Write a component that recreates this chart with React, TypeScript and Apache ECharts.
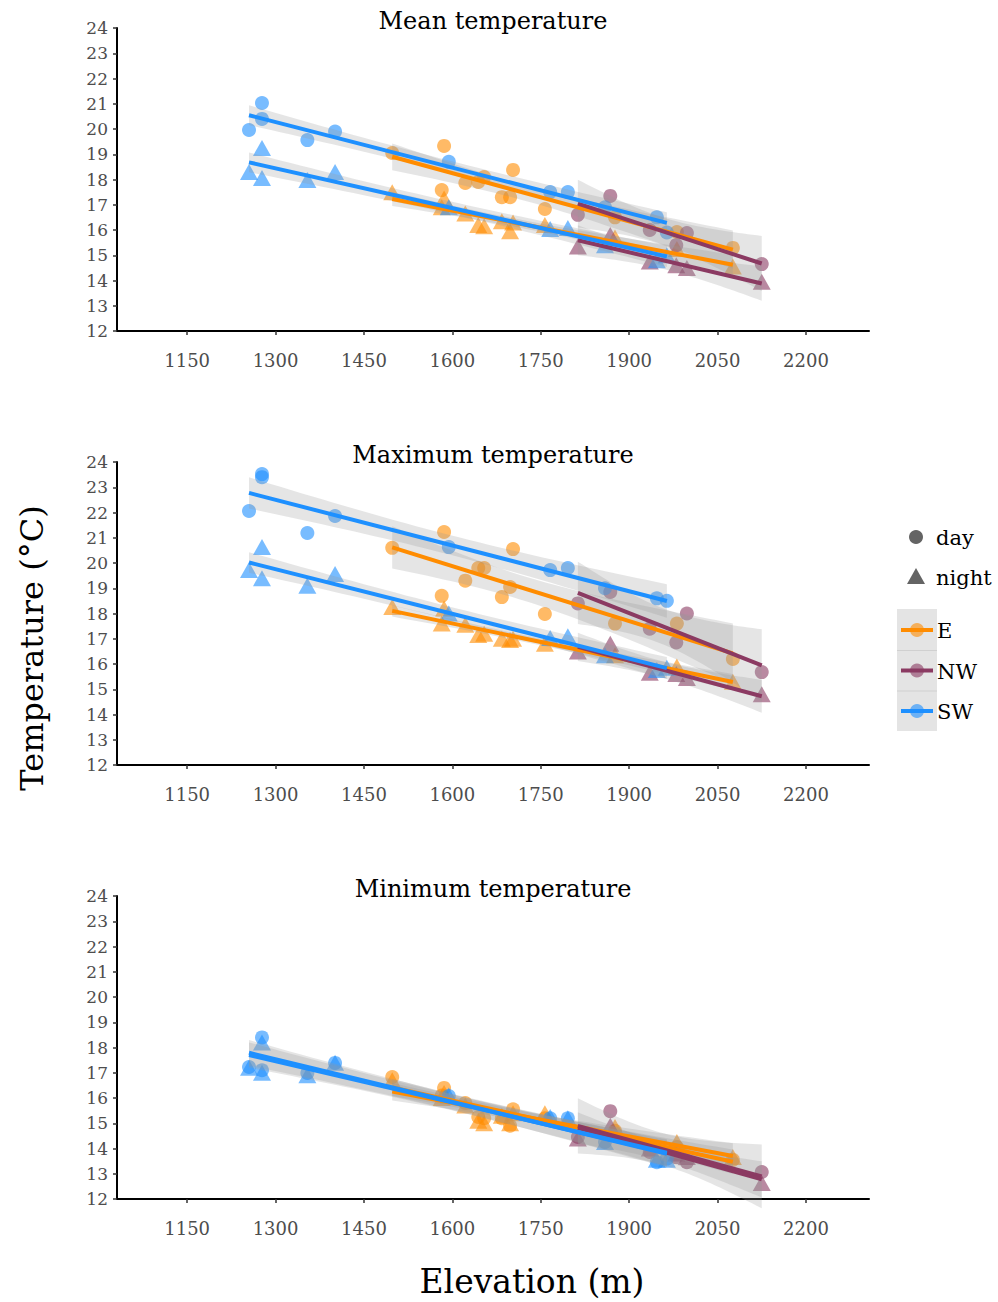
import React, { useEffect, useRef } from "react";
import * as echarts from "echarts";

const FONT = '"DejaVu Serif", "Liberation Serif", serif';

const X_TICKS = [1150, 1300, 1450, 1600, 1750, 1900, 2050, 2200];
const X_MIN = 1031;
const X_MAX = 2307;
const Y_MIN = 12;
const Y_MAX = 24;

const PANEL_TITLES = ["Mean temperature", "Maximum temperature", "Minimum temperature"];
const REGIONS = ["E", "NW", "SW"];
const TIMES = ["day", "night"];
const COLORS: Record<string, string> = { E: "#FF8C00", NW: "#8B3A62", SW: "#1E90FF" };

// site elevations (m)
const ELEV_E = [1498, 1582, 1586, 1622, 1644, 1654, 1684, 1698, 1703, 1757, 1876, 1981, 2076];
const ELEV_NW = [1813, 1868, 1935, 1980, 1998, 2125];
const ELEV_SW = [1255, 1277, 1277, 1354, 1401, 1594, 1766, 1796, 1859, 1947, 1964];

// Mean temperature
const MEAN_E_DAY = [19.05, 17.58, 19.33, 17.86, 17.9, 18.1, 17.3, 17.3, 18.38, 16.83, 16.5, 15.92, 15.29];
const MEAN_E_NIGHT = [17.5, 16.9, 17.25, 16.65, 16.2, 16.15, 16.35, 15.95, 16.3, 16.2, 15.7, 15.25, 14.55];
const MEAN_NW_DAY = [16.6, 17.35, 16.0, 15.4, 15.88, 14.65];
const MEAN_NW_NIGHT = [15.35, 15.8, 14.75, 14.6, 14.5, 13.95];
const MEAN_SW_DAY = [19.96, 21.03, 20.4, 19.56, 19.9, 18.7, 17.5, 17.5, 16.9, 16.5, 15.9];
const MEAN_SW_NIGHT = [18.3, 19.25, 18.06, 17.98, 18.3, 16.9, 16.04, 16.08, 15.4, 14.8, 15.0];

// Maximum temperature
const MAX_E_DAY = [20.6, 18.7, 21.23, 19.3, 19.8, 19.8, 18.65, 19.05, 20.55, 17.98, 17.6, 17.6, 16.2];
const MAX_E_NIGHT = [18.26, 17.6, 18.2, 17.55, 17.15, 17.2, 17.0, 16.95, 17.0, 16.8, 16.35, 15.9, 15.3];
const MAX_NW_DAY = [18.4, 18.85, 17.4, 16.85, 18.0, 15.68];
const MAX_NW_NIGHT = [16.5, 16.8, 15.65, 15.6, 15.45, 14.8];
const MAX_SW_DAY = [22.06, 23.52, 23.4, 21.19, 21.86, 20.63, 19.72, 19.8, 19.0, 18.6, 18.5];
const MAX_SW_NIGHT = [19.72, 20.63, 19.4, 19.1, 19.56, 18.0, 17.03, 17.1, 16.35, 15.76, 15.85];

// Minimum temperature
const MIN_E_DAY = [16.83, 16.1, 16.4, 15.8, 15.25, 15.2, 15.2, 14.9, 15.55, 15.2, 14.7, 14.06, 13.55];
const MIN_E_NIGHT = [16.7, 16.0, 16.2, 15.7, 15.1, 15.0, 15.3, 15.0, 15.4, 15.4, 14.85, 14.26, 13.66];
const MIN_NW_DAY = [14.46, 15.48, 13.86, 13.66, 13.46, 13.07];
const MIN_NW_NIGHT = [14.4, 14.9, 14.0, 13.8, 13.66, 12.63];
const MIN_SW_DAY = [17.23, 18.4, 17.1, 16.99, 17.39, 16.08, 15.2, 15.2, 14.26, 13.46, 13.6];
const MIN_SW_NIGHT = [17.2, 18.2, 17.0, 16.9, 17.4, 16.1, 15.25, 15.2, 14.26, 13.55, 13.55];

const ELEV: Record<string, number[]> = { E: ELEV_E, NW: ELEV_NW, SW: ELEV_SW };
const PANELS: Record<string, number[][]>[] = [
  { E: [MEAN_E_DAY, MEAN_E_NIGHT], NW: [MEAN_NW_DAY, MEAN_NW_NIGHT], SW: [MEAN_SW_DAY, MEAN_SW_NIGHT] },
  { E: [MAX_E_DAY, MAX_E_NIGHT], NW: [MAX_NW_DAY, MAX_NW_NIGHT], SW: [MAX_SW_DAY, MAX_SW_NIGHT] },
  { E: [MIN_E_DAY, MIN_E_NIGHT], NW: [MIN_NW_DAY, MIN_NW_NIGHT], SW: [MIN_SW_DAY, MIN_SW_NIGHT] },
];

const T975: Record<number, number> = {
  2: 4.303, 3: 3.182, 4: 2.776, 5: 2.571, 6: 2.447, 7: 2.365, 8: 2.306, 9: 2.262, 10: 2.228, 11: 2.201, 12: 2.179, 13: 2.16,
};

function lmFit(xs: number[], ys: number[]) {
  const n = xs.length;
  const mx = xs.reduce((a, b) => a + b, 0) / n;
  const my = ys.reduce((a, b) => a + b, 0) / n;
  let sxx = 0, sxy = 0;
  for (let i = 0; i < n; i++) {
    sxx += (xs[i] - mx) ** 2;
    sxy += (xs[i] - mx) * (ys[i] - my);
  }
  const b = sxy / sxx;
  const a = my - b * mx;
  let rss = 0;
  for (let i = 0; i < n; i++) rss += (ys[i] - (a + b * xs[i])) ** 2;
  const s = Math.sqrt(rss / (n - 2));
  const t = T975[n - 2] || 2.0;
  const x0 = Math.min(...xs), x1 = Math.max(...xs);
  const upper: number[][] = [], lower: number[][] = [];
  const N = 40;
  for (let k = 0; k <= N; k++) {
    const x = x0 + ((x1 - x0) * k) / N;
    const yh = a + b * x;
    const se = s * Math.sqrt(1 / n + (x - mx) ** 2 / sxx);
    upper.push([x, yh + t * se]);
    lower.push([x, yh - t * se]);
  }
  return { line: [[x0, a + b * x0], [x1, a + b * x1]], upper, lower };
}

const GRID_TOPS = [28, 462, 896];
const GRID_LEFT = 117;
const GRID_W = 752;
const GRID_H = 303;

function buildOption() {
  const grids = GRID_TOPS.map((top) => ({ left: GRID_LEFT, top, width: GRID_W, height: GRID_H }));
  const xAxes = GRID_TOPS.map((_, p) => ({
    type: "value",
    gridIndex: p,
    min: X_MIN,
    max: X_MAX,
    axisLine: { show: true, onZero: false, lineStyle: { color: "#000", width: 2 } },
    axisTick: { show: true, customValues: X_TICKS, length: 4, lineStyle: { color: "#333", width: 1.5 } },
    axisLabel: {
      customValues: X_TICKS,
      color: "#4D4D4D",
      fontSize: 18,
      fontFamily: FONT,
      margin: 20,
      formatter: (v: number) => String(v),
    },
    splitLine: { show: false },
  }));
  const yAxes = GRID_TOPS.map((_, p) => ({
    type: "value",
    gridIndex: p,
    min: Y_MIN,
    max: Y_MAX,
    interval: 1,
    axisLine: { show: true, onZero: false, lineStyle: { color: "#000", width: 2 } },
    axisTick: { show: true, length: 4, lineStyle: { color: "#333", width: 1.5 } },
    axisLabel: { color: "#4D4D4D", fontSize: 17, fontFamily: FONT, margin: 9 },
    splitLine: { show: false },
  }));

  const series: any[] = [];
  PANELS.forEach((panel, p) => {
    REGIONS.forEach((r) => {
      TIMES.forEach((tm, ti) => {
        const vals = panel[r][ti];
        series.push({
          type: "scatter",
          xAxisIndex: p,
          yAxisIndex: p,
          symbol: ti === 0 ? "circle" : "triangle",
          symbolSize: ti === 0 ? 14 : [18, 16],
          itemStyle: { color: COLORS[r], opacity: 0.6 },
          data: ELEV[r].map((e, i) => [e, vals[i]]),
          z: 2,
          silent: true,
        });
      });
    });
    REGIONS.forEach((r) => {
      TIMES.forEach((tm, ti) => {
        const f = lmFit(ELEV[r], panel[r][ti]);
        series.push({
          type: "custom",
          xAxisIndex: p,
          yAxisIndex: p,
          silent: true,
          z: 3,
          data: [f.line[0]],
          renderItem: (params: any, api: any) => {
            const pts = f.upper.map((d) => api.coord(d)).concat(f.lower.slice().reverse().map((d) => api.coord(d)));
            return {
              type: "polygon",
              shape: { points: pts },
              style: { fill: "rgba(153,153,153,0.25)", stroke: null },
            };
          },
        });
        series.push({
          type: "line",
          xAxisIndex: p,
          yAxisIndex: p,
          data: f.line,
          symbol: "none",
          showSymbol: false,
          lineStyle: { color: COLORS[r], width: 4 },
          z: 4,
          silent: true,
        });
      });
    });
  });

  const graphic: any[] = [];
  PANEL_TITLES.forEach((t, p) => {
    graphic.push({
      type: "text",
      x: GRID_LEFT + GRID_W / 2,
      y: GRID_TOPS[p] - 7,
      z: 10,
      style: { text: t, fill: "#000", fontSize: 24, fontFamily: FONT, align: "center", verticalAlign: "middle" },
    });
  });
  graphic.push({
    type: "text",
    x: 32,
    y: 648,
    rotation: Math.PI / 2,
    style: { text: "Temperature (°C)", fill: "#000", fontSize: 32, fontFamily: FONT, align: "center", verticalAlign: "middle" },
  });
  graphic.push({
    type: "text",
    x: 532,
    y: 1281,
    style: { text: "Elevation (m)", fill: "#000", fontSize: 33, fontFamily: FONT, align: "center", verticalAlign: "middle" },
  });
  graphic.push({ type: "circle", shape: { cx: 916, cy: 537, r: 7 }, style: { fill: "#646464" } });
  graphic.push({
    type: "text", x: 936, y: 538,
    style: { text: "day", fill: "#000", fontSize: 21, fontFamily: FONT, align: "left", verticalAlign: "middle" },
  });
  graphic.push({ type: "polygon", shape: { points: [[907, 584], [925, 584], [916, 568]] }, style: { fill: "#646464" } });
  graphic.push({
    type: "text", x: 936, y: 578,
    style: { text: "night", fill: "#000", fontSize: 21, fontFamily: FONT, align: "left", verticalAlign: "middle" },
  });
  graphic.push({ type: "rect", shape: { x: 897, y: 609, width: 40, height: 122 }, style: { fill: "#E4E4E4" } });
  REGIONS.forEach((r, i) => {
    const cy = 630 + i * 40.5;
    if (i > 0) {
      graphic.push({ type: "line", shape: { x1: 897, y1: cy - 20, x2: 937, y2: cy - 20 }, style: { stroke: "#D0D0D0", lineWidth: 1 } });
    }
    graphic.push({ type: "line", shape: { x1: 901, y1: cy, x2: 933, y2: cy }, style: { stroke: COLORS[r], lineWidth: 4 } });
    graphic.push({ type: "circle", shape: { cx: 917, cy, r: 7 }, style: { fill: COLORS[r], opacity: 0.6 } });
    graphic.push({
      type: "text", x: 937, y: cy + 1,
      style: { text: r, fill: "#000", fontSize: 21, fontFamily: FONT, align: "left", verticalAlign: "middle" },
    });
  });

  return {
    animation: false,
    backgroundColor: "#fff",
    textStyle: { fontFamily: FONT },
    grid: grids,
    xAxis: xAxes,
    yAxis: yAxes,
    series,
    graphic,
  };
}

export default function App() {
  const ref = useRef<HTMLDivElement>(null);
  useEffect(() => {
    if (!ref.current) return;
    const chart = echarts.init(ref.current, undefined, { renderer: "svg" });
    chart.setOption(buildOption() as any);
    return () => chart.dispose();
  }, []);
  return <div ref={ref} style={{ position: "absolute", left: 0, top: 0, width: 998, height: 1302 }} />;
}
